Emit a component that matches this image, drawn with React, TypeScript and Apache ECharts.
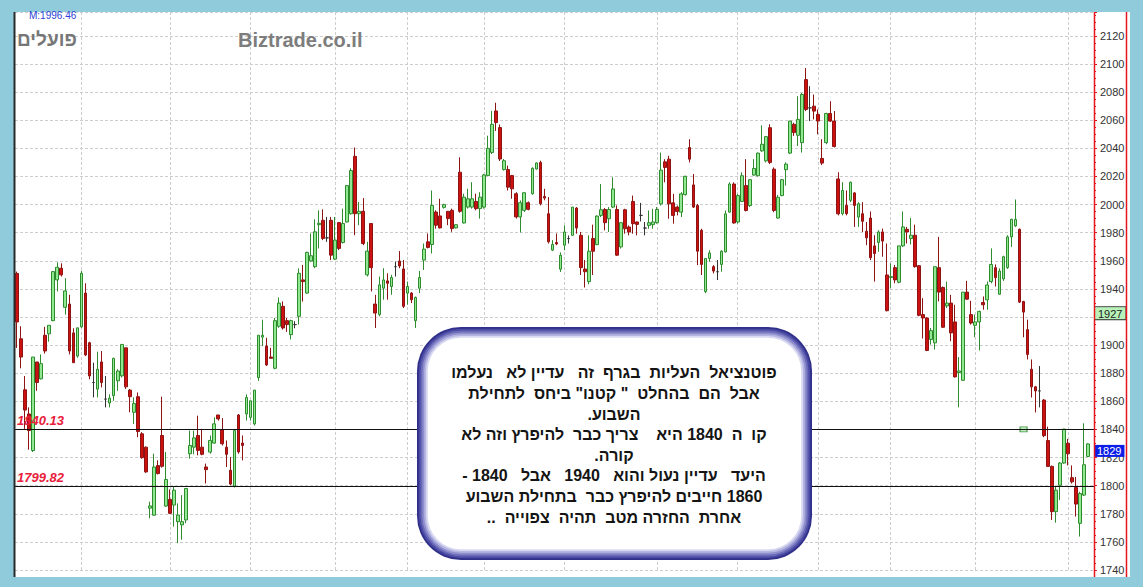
import React, { useEffect, useRef } from 'react';
import * as echarts from 'echarts';

// Daily OHLC values (left to right)
const opens = [
  1951, 1904.5, 1868.2, 1851, 1825, 1888, 1876, 1907, 1908, 1917.4,
  1946.4, 1954.7, 1926.9, 1929.2, 1908.7, 1892.2, 1913, 1937, 1901.7, 1873.4,
  1868.7, 1888, 1861.6, 1858.8, 1864, 1874.6, 1878.1, 1898.1, 1868, 1852.2,
  1863.3, 1836.9, 1827.4, 1784, 1779, 1814.3, 1835.7, 1785.5, 1790.2, 1786.2,
  1774.4, 1772.1, 1775.6, 1822.7, 1827.4, 1835.7, 1827.4, 1813.3, 1823.9, 1830.3,
  1850.3, 1839.7, 1827.4, 1811, 1799.6, 1850.3, 1830.3, 1851, 1848.6, 1843.9,
  1876.9, 1905.7, 1899.3, 1891.5, 1883.5, 1913.4,
  1927.6, 1917.4, 1907.5, 1914.6, 1920.5, 1946.4, 1937, 1959.8, 1955.8, 1985.7,
  1988.8, 1976.3, 1988.8, 1961.2, 1987.2, 1973, 1987.6, 1993.5, 2034.3, 1993.5,
  1995.2, 1950, 1986.5, 1929.2, 1921.7, 1940.5, 1945.7, 1941.7, 1955.8, 1959.8,
  1954.2, 1937, 1937, 1917.4, 1940.5, 1960.5, 1973.5, 1971.6, 1994.7, 1991.9,
  1998, 1995.2, 1995.9, 1983.4, 2023, 1986.9, 1998.2, 1998.2, 2002.2, 1997.1,
  1998.2, 2020.6, 2037.1, 2066.6, 2054.8, 2024.9, 2024.9, 2020.6, 2007.7, 1991.2,
  1995.9, 2001.3, 2007.7, 2025.3, 2030, 2005.8, 1993.5, 1967.6, 1973,
  1954, 1971.1, 1975.8, 1978.1, 1997.5, 1978.1, 1954.1, 1945.2, 1975.8, 1971.5,
  1992.3, 1996.5, 1989.9, 1998.2, 1996.5, 1969.9, 1996.3, 1984, 2002.2, 1987.6,
  1992.3, 1983.3, 1985.2, 1985.7, 1987.1, 2000.5, 2030.4, 2032.3, 2001.2, 1998.2,
  1994.6, 2007.1, 2040.6, 2014, 1999.3, 1981.7, 1938.1, 1961.6, 1955.8, 1952.2,
  1957.4, 1966.3, 1994.6, 2014.6, 1987.6, 2002.2, 2013.5, 1999.3, 2021, 2020.5,
  2038.2, 2031.1, 2054.7, 2025.2, 1990.4, 2006.4, 2024.8, 2036.6, 2057.1, 2049.3,
  2044.1, 2088.9, 2068.8, 2070, 2064.1, 2032.8, 2044.1, 2064.8, 2059.4, 2018.2,
  1993.5, 1999.4, 2003, 2008.3, 1991.1, 1993.5, 1981, 1990.4, 1970.6, 1973,
  1980.5, 1949.9, 1948.1, 1955.1, 1944.7, 1970.6, 1982.4, 1975.8, 1978.2, 1956.5,
  1921.7, 1919.3, 1904, 1901.6, 1955.1, 1941, 1927.9, 1929.9, 1916.5, 1880.5,
  1875, 1937.7, 1921.7, 1914.1, 1916.5, 1930.3, 1932.2, 1945.2, 1955.1, 1936.2,
  1947.1, 1955.1, 1977, 1984.8, 1982.4, 1931, 1911, 1882.8, 1870.3, 1867.4,
  1860.9, 1832.1, 1813.7, 1781.5, 1800.3, 1816.1, 1830.2, 1805.7, 1798.7, 1773.2,
  1793.3, 1820.8,
];

const closes = [
  1916.5, 1891.5, 1853.8, 1839.2, 1891.5, 1873.4, 1886.8, 1895.8, 1914.1, 1952.3,
  1955.4, 1950, 1938.6, 1895.8, 1887.5, 1912.3, 1951.1, 1893, 1878.1, 1873.4,
  1882.8, 1873.4, 1861.6, 1862.3, 1890.6, 1881.6, 1900.5, 1870.3, 1863.3, 1858.5,
  1838.5, 1819.9, 1809.8, 1785.6, 1813.3, 1808.6, 1813.8, 1804.4, 1780.3, 1796.8,
  1779.1, 1774.4, 1798, 1828.6, 1834, 1825.1, 1822.3, 1811.4, 1832.2, 1844,
  1847.5, 1829.8, 1822.3, 1801.1, 1839.2, 1824, 1828.6, 1862.8, 1860.4, 1868,
  1907, 1907, 1885.9, 1890.6, 1917.4, 1929.9,
  1912.2, 1914.6, 1917.4, 1914.6, 1951.1, 1945.2, 1966, 1963.6, 1980.6, 1986.7,
  1975.9, 1976.3, 1964, 1974.7, 1968.8, 1986.5, 2013.5, 2024.2, 1993.5, 1995.2,
  1972.3, 1966.9, 1955.1, 1922.8, 1942.9, 1946.4, 1944, 1948.1, 1955.8, 1956.3,
  1927.6, 1941.7, 1932.3, 1933.9, 1948.1, 1968.3, 1969.5, 1999.4, 1985.3, 1983.4,
  1999.9, 1990, 1982.9, 1985.7, 1995.2, 2005.3, 2004.1, 2004.1, 1997.1, 2005.3,
  2021.1, 2040, 2057.1, 2058.3, 2032.4, 2031.2, 2012.4, 2011.2, 1991.2, 2001.3,
  2008.4, 1996.6, 2025.8, 2029.6, 2000.6, 2004.6, 1973.5, 1971.6, 1972,
  1964, 1980.5, 1975.8, 1998.2, 1983.3, 1955.1, 1952.2, 1966.8, 1966.8, 1991.8,
  1996.3, 1987.1, 1996.5, 2011.1, 1964, 1987.1, 1982.8, 1980.5, 1986.4, 1985.9,
  1992.3, 1983.3, 1987.1, 1987.6, 1996.5, 2024.5, 2026.4, 2000.5, 1992.3, 1995.1,
  2007.6, 2020.1, 2032.3, 1998.2, 1966.8, 1957.4, 1961.6, 1965.6, 1952.7, 1952.2,
  1966.8, 1993.4, 2014.6, 1986.9, 2006.4, 2020.5, 1995.8, 2017.7, 2025.7, 2036.6,
  2042.9, 2048.3, 2030, 1995.8, 2005.2, 2017.7, 2028.8, 2059.4, 2051.2, 2060.6,
  2078.3, 2067.7, 2068.8, 2066.5, 2059.4, 2029.5, 2064.8, 2059.4, 2041.3, 1993.4,
  2010, 1993.5, 2015.9, 1999.4, 2000.6, 1988.1, 1976.3, 1962.2, 1965.2, 1980.5,
  1974, 1924.5, 1948.7, 1946.4, 1970.6, 1984.1, 1980.5, 1978.2, 1955.8, 1921.2,
  1919.3, 1896.2, 1910.3, 1955.8, 1937.7, 1912.7, 1929.9, 1908.7, 1877.4, 1881.6,
  1937.7, 1932.7, 1915.7, 1916.5, 1924, 1928.7, 1942.8, 1957.4, 1948, 1952.7,
  1962.9, 1977, 1989.5, 1989.5, 1930.6, 1923.5, 1893.4, 1870.3, 1867.4, 1867.4,
  1835.6, 1813.7, 1781.5, 1796.8, 1816.1, 1840.3, 1822.7, 1802.7, 1786.9, 1794.4,
  1814.9, 1829.7,
];

const lows = [
  1898, 1883.5, 1840.4, 1825.6, 1824, 1867.5, 1875.6, 1894, 1902.4, 1917,
  1938.2, 1948.8, 1921.7, 1893.4, 1887.5, 1891, 1912.3, 1892.2, 1875.7, 1862.8,
  1862.8, 1869.9, 1855.7, 1855.7, 1860.4, 1867.5, 1877, 1868.7, 1852.2, 1843.9,
  1834.5, 1819.2, 1809.1, 1776.8, 1778.5, 1808, 1812.8, 1785, 1779.8, 1770.9,
  1759.1, 1761.5, 1773.3, 1819.2, 1822.3, 1821.6, 1821.6, 1801.5, 1822.7, 1829.8,
  1846.3, 1828.6, 1813.3, 1800.4, 1798.7, 1822.7, 1818, 1846.3, 1846.3, 1842.8,
  1874.6, 1899.3, 1885.2, 1890.6, 1882.8, 1912.3,
  1911.1, 1909.4, 1904, 1912, 1914.6, 1931, 1936.5, 1959.4, 1954.7, 1968.8,
  1974.7, 1973.5, 1960.5, 1960.5, 1967.6, 1972.3, 1987.2, 1992.8, 1978.2, 1985.3,
  1971.1, 1948.8, 1938.2, 1912.2, 1920.5, 1932.3, 1932.3, 1935.8, 1948.8, 1954.7,
  1926.4, 1928.8, 1929.9, 1912.2, 1937, 1953.5, 1968.8, 1965.2, 1982.9, 1983,
  1997.1, 1985.3, 1980.6, 1983, 1994.2, 1986.5, 1997.1, 1997.1, 1995.9, 1990,
  1997.1, 2020.6, 2036, 2052.4, 2031, 2024.2, 2010, 2004.1, 1990, 1980.1,
  1994.7, 1995.9, 2007, 2024.9, 1999.4, 2003, 1972.3, 1966.9, 1971.1,
  1952, 1967.5, 1972.3, 1978.1, 1979.3, 1949.9, 1941, 1943.3, 1949.9, 1971.1,
  1991.1, 1981.7, 1980.5, 1997.5, 1963.5, 1968.7, 1979.3, 1978.1, 1979.3, 1978.1,
  1988, 1978.1, 1982.8, 1982.8, 1986.4, 1999.3, 2015.8, 1989.9, 1986.4, 1992.3,
  1991.1, 2006.4, 2030, 1997.5, 1956.9, 1949.9, 1936.9, 1959.3, 1951, 1946.3,
  1952.2, 1965.9, 1994.2, 1986.4, 1986.4, 2001.7, 1995.1, 1998.2, 2020.5, 2020,
  2037.5, 2030, 2028.8, 1994.6, 1989.9, 2005.9, 2013.5, 2035.9, 2048.8, 2041.7,
  2037, 2066.5, 2059.4, 2060.6, 2050, 2028.1, 2042.9, 2058.7, 2040.6, 1992.3,
  1992.3, 1992.3, 2001.7, 1984.1, 1984.1, 1980.5, 1971.1, 1960.5, 1945.2, 1966.4,
  1962.9, 1924, 1940.5, 1944, 1944, 1969.9, 1972.3, 1971.6, 1955.1, 1920.5,
  1904.7, 1895.7, 1900.4, 1896.9, 1931.1, 1912.2, 1926.4, 1902.8, 1876.9, 1855.7,
  1874.5, 1932.2, 1914.6, 1905.6, 1896.2, 1925.2, 1925.2, 1944, 1941.7, 1935.8,
  1945.7, 1954.2, 1969.9, 1984.1, 1929.9, 1905.6, 1889.8, 1862.7, 1852.1, 1855.7,
  1834.5, 1813.3, 1775.6, 1773.7, 1789.7, 1815.6, 1814.4, 1801.5, 1778, 1763.8,
  1792.6, 1820.4,
];

const highs = [
  1952.3, 1913.4, 1878, 1855.7, 1891.5, 1888, 1893.4, 1913, 1914.1, 1952.3,
  1958.9, 1958.2, 1947.6, 1935.8, 1912, 1912.3, 1952.8, 1944, 1902.4, 1887.5,
  1895.3, 1895.8, 1878, 1865, 1891, 1882.8, 1900.5, 1898.1, 1868.7, 1862.8,
  1866.3, 1838.1, 1827.9, 1788.6, 1822.7, 1818, 1863.3, 1823.9, 1797.3, 1799.6,
  1787.4, 1793.3, 1798, 1839.2, 1839.2, 1849.8, 1840.4, 1815.7, 1835.7, 1848.6,
  1850.3, 1848.1, 1832.2, 1820.4, 1839.2, 1851, 1835.7, 1865, 1860.4, 1868,
  1907, 1918.1, 1905.2, 1898.1, 1919.3, 1933.9,
  1931.1, 1919.3, 1918.1, 1917, 1954.6, 1957, 1966.4, 1979.4, 1989.5, 1995.9,
  1996.6, 1991.2, 1991.2, 1991.2, 1987.6, 1997.1, 2013.5, 2025.8, 2040.6, 2001.8,
  2004.6, 1973.5, 1986.5, 1935.8, 1948.8, 1954.7, 1951.1, 1950, 1959.4, 1966.9,
  1960.5, 1945.2, 1937.7, 1934.6, 1952.8, 1972.3, 1979.4, 2010, 1995.9, 2004.1,
  2000.6, 1995.2, 1997.1, 1985.7, 2033.6, 2007.7, 2011.2, 2015.9, 2007.7, 2008.8,
  2021.8, 2049, 2066.6, 2072.4, 2057, 2032.4, 2027.7, 2021.1, 2008.8, 2002.9,
  2008.8, 2002.2, 2026.5, 2030, 2031.2, 2011.2, 2005.3, 1974.7, 1979.4,
  1966, 1985.2, 1978, 1998.2, 1998.2, 1980.5, 1960.5, 1978.1, 1985.7, 1992.3,
  2014.6, 1997.5, 1998.2, 2019.4, 1999.4, 1987.6, 1997, 1985.2, 2006.4, 1988,
  2001.2, 1987.6, 1995.8, 1997, 1998.2, 2037, 2032.3, 2034.7, 2007.6, 1999.3,
  2008.8, 2020.5, 2046.5, 2021.7, 2000.5, 1982.8, 1961.6, 1967.5, 1956.9, 1960.5,
  1967.5, 1995.8, 2015.8, 2015.8, 2007.6, 2022.9, 2032.3, 2018.2, 2032.3, 2037,
  2056.4, 2048.8, 2057.1, 2026.4, 2006.9, 2018.2, 2030, 2059.4, 2058.2, 2077.1,
  2079.4, 2097.1, 2084.2, 2078.3, 2067.7, 2046.5, 2065.3, 2073.5, 2066.5, 2023,
  2015.9, 2010, 2016.3, 2008.8, 2001.7, 2001.7, 1987.6, 1995.1, 1978.2, 1981.7,
  1982.9, 1972.3, 1958.2, 1957, 1970.6, 1995.1, 1984.1, 1990.4, 1985.7, 1957,
  1933.4, 1919.8, 1912.2, 1955.8, 1977, 1941.7, 1945.2, 1935.8, 1928.7, 1891.5,
  1937.7, 1945.7, 1931.5, 1921.7, 1924.5, 1934.6, 1945.2, 1968.8, 1957.4, 1954.6,
  1963.6, 1978.2, 1989.9, 2003.6, 1982.9, 1931.5, 1918.1, 1889.8, 1871, 1885.1,
  1861.6, 1842, 1814.4, 1799.1, 1816.8, 1840.3, 1833.3, 1814.4, 1806.2, 1795.6,
  1844.4, 1830.2,
];

// indices of the first trading day of each month (vertical grid lines)
const monthStarts = [16, 38, 58, 79, 97, 116, 136, 159, 179, 199, 217, 238, 261];
// horizontal support lines drawn by the author
const supportLevels = [1840.13, 1799.82];
// price tags on the right axis
const referencePrice = 1927;
const lastPrice = 1829;
// axis labels hidden under the price tags in the reference
const coveredTicks = [1920];
// small marker square
const markerPoint = [250, 1840];
// y axis
const axisMin = 1740;
const axisMax = 2137;
const tickStep = 20;

const noteLines = [
  'פוטנציאל  העליות  בגרף  זה   עדיין לא   נעלמו',
  'אבל  הם  בהחלט  " קטנו" ביחס  לתחילת',
  'השבוע.',
  'קו  ה  1840 היא    צריך כבר  להיפרץ וזה לא',
  'קורה.',
  'היעד   עדיין נעול והוא   1940   אבל   1840 -',
  '1860 חייבים להיפרץ כבר  בתחילת השבוע',
  'אחרת  החזרה מטב  תהיה  צפוייה  ..',
];

const BG = '#8fcbdb';
const FONT = "Arial, 'Liberation Sans', 'DejaVu Sans', sans-serif";

export default function App() {
  const ref = useRef<HTMLDivElement>(null);

  useEffect(() => {
    const chart = echarts.init(ref.current!, null, { renderer: 'svg' });
    const candles = opens.map((o, i) => [o, closes[i], lows[i], highs[i]]);
    const slots = opens.map((_, i) => 'd' + (i + 1)).concat(['']);

    // note box: layered rounded rects for the gradient border
    const box = { x: 417, y: 327, w: 395, h: 233, r: 44 };
    const layers = ['#30308a', '#4a4aa4', '#6a6ab8', '#8f8fce', '#b5b5e2', '#d9d9f2', '#ffffff'];
    const layerGraphics = layers.map((c, k) => {
      const inset = k * 1.8;
      return {
        type: 'rect',
        z: 50 + k,
        silent: true,
        shape: {
          x: box.x + inset,
          y: box.y + inset,
          width: box.w - inset * 2,
          height: box.h - inset * 2,
          r: Math.max(box.r - inset, 4),
        },
        style: { fill: c },
      };
    });

    const rlm = '\u200F';
    const noteText = noteLines.map((l) => rlm + l + rlm).join('\n');

    const option: any = {
      animation: false,
      backgroundColor: BG,
      grid: { left: 15, right: 49, top: 12, bottom: 17 },
      xAxis: {
        type: 'category',
        data: slots,
        boundaryGap: true,
        axisLine: { show: false },
        axisTick: { show: false },
        axisLabel: { show: false },
        splitLine: { show: false },
      },
      yAxis: {
        type: 'value',
        position: 'right',
        min: axisMin,
        max: axisMax,
        interval: tickStep,
        axisLine: { show: false },
        axisTick: { show: true, length: 3, lineStyle: { color: '#e01a1a' } },
        minorTick: { show: true, splitNumber: 4, length: 2, lineStyle: { color: '#e01a1a' } },
        axisLabel: {
          color: '#333',
          fontSize: 11,
          fontFamily: FONT,
          margin: 6,
          showMaxLabel: false,
          formatter: (v: number) =>
            v % tickStep === 0 && coveredTicks.indexOf(v) < 0 ? String(v) : '',
        },
        splitLine: { show: true, lineStyle: { color: '#cdcdcd', type: [3, 2], width: 1 } },
      },
      graphic: [
        { type: 'rect', z: -10, silent: true, shape: { x: 14, y: 12, width: 1116, height: 565 }, style: { fill: '#ffffff' } },
        { type: 'line', z: 40, silent: true, shape: { x1: 14.5, y1: 12, x2: 14.5, y2: 577 }, style: { stroke: '#2a2a2a', lineWidth: 2 } },
        { type: 'line', z: 40, silent: true, shape: { x1: 1094.5, y1: 12, x2: 1094.5, y2: 577 }, style: { stroke: '#e8141e', lineWidth: 1.5 } },
        { type: 'line', z: 40, silent: true, shape: { x1: 1126.5, y1: 12, x2: 1126.5, y2: 577 }, style: { stroke: '#e8141e', lineWidth: 1.5 } },
        { type: 'rect', z: 100, silent: true, shape: { x: 0, y: 577, width: 1143, height: 10 }, style: { fill: BG } },
        {
          type: 'text', z: 40, silent: true,
          style: { text: 'M:1996.46', x: 29, y: 15.5, align: 'left', verticalAlign: 'middle', font: `10px ${FONT}`, fill: '#2f3fd5' },
        },
        {
          type: 'text', z: 40, silent: true,
          style: { text: 'פועלים', x: 17, y: 39.5, align: 'left', verticalAlign: 'middle', font: `bold 19px ${FONT}`, fill: '#777777' },
        },
        {
          type: 'text', z: 40, silent: true,
          style: { text: 'Biztrade.co.il', x: 238, y: 39.5, align: 'left', verticalAlign: 'middle', font: `bold 20px ${FONT}`, fill: '#7d7d7d' },
        },
        ...layerGraphics,
        {
          type: 'text', z: 70, silent: true,
          style: {
            text: noteText,
            x: 614,
            y: 445,
            align: 'center',
            verticalAlign: 'middle',
            font: `bold 16px ${FONT}`,
            lineHeight: 20.6,
            fill: '#141414',
          },
        },
      ],
      series: [
        {
          type: 'candlestick',
          data: candles,
          barWidth: 3.2,
          silent: true,
          itemStyle: {
            color: '#90e890',
            color0: '#cc1111',
            borderColor: '#2e8b2e',
            borderColor0: '#8e1414',
            borderColorDoji: '#333333',
            borderWidth: 1,
          },
          markLine: {
            symbol: 'none',
            silent: true,
            data: [
              ...supportLevels.map((v) => ({
                yAxis: v,
                lineStyle: { color: '#111111', width: 1, type: 'solid' },
                label: {
                  show: true,
                  position: 'insideStartTop',
                  formatter: v.toFixed(2),
                  color: '#e8203c',
                  fontStyle: 'italic',
                  fontWeight: 'bold',
                  fontSize: 13,
                  fontFamily: FONT,
                  distance: 2,
                },
              })),
              {
                yAxis: referencePrice,
                lineStyle: { color: 'rgba(0,0,0,0)', width: 0 },
                label: {
                  show: true,
                  position: 'end',
                  distance: 1,
                  verticalAlign: 'top',
                  formatter: String(referencePrice),
                  backgroundColor: '#b8f2b8',
                  borderColor: '#3a3a3a',
                  borderWidth: 1,
                  padding: [1, 3, 0, 3],
                  color: '#222222',
                  fontSize: 11,
                  fontFamily: FONT,
                  opacity: 1,
                },
              },
              {
                yAxis: lastPrice,
                lineStyle: { color: 'rgba(0,0,0,0)', width: 0 },
                label: {
                  show: true,
                  position: 'end',
                  distance: 0,
                  verticalAlign: 'top',
                  formatter: String(lastPrice),
                  backgroundColor: '#0b1ee8',
                  padding: [1, 3, 0, 3],
                  color: '#ffffff',
                  fontSize: 11,
                  fontFamily: FONT,
                  opacity: 1,
                },
              },
            ],
          },
        },
        {
          type: 'scatter',
          data: [markerPoint],
          symbol: 'rect',
          symbolSize: [7, 5],
          silent: true,
          z: 4,
          itemStyle: { color: '#a9eea9', borderColor: '#2b7a2b', borderWidth: 1 },
          markLine: {
            symbol: 'none',
            silent: true,
            z: 1,
            label: { show: false },
            lineStyle: { color: '#cdcdcd', type: [3, 2], width: 1 },
            data: monthStarts.map((i) => ({ xAxis: i })),
          },
        },
      ],
    };

    chart.setOption(option);
    return () => chart.dispose();
  }, []);

  return (
    <div
      ref={ref}
      style={{ position: 'fixed', left: 0, top: 0, width: 1143, height: 587 }}
    />
  );
}
